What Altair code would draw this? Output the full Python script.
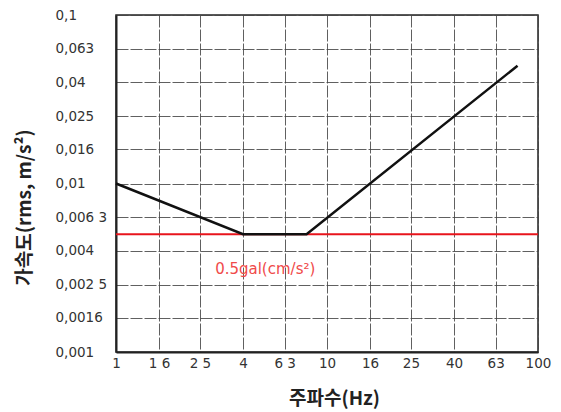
import altair as alt
import pandas as pd

# Data
freq = [1, 4, 8, 80]
accel = [0.01, 0.005, 0.005, 0.05]
limit_value = [0.005]
limit_label = ["0.5gal(cm/s²)"]
label_x = [2.95]
label_y = [0.0031]

x_ticks = [1, 1.6, 2.5, 4, 6.3, 10, 16, 25, 40, 63, 100]
x_tick_labels = ["1", "1 6", "2 5", "4", "6 3", "10", "16", "25", "40", "63", "100"]
y_ticks = [0.001, 0.0016, 0.0025, 0.004, 0.0063, 0.01, 0.016, 0.025, 0.04, 0.063, 0.1]
y_tick_labels = ["0,001", "0,0016", "0,002 5", "0,004", "0,006 3", "0,01", "0,016",
                 "0,025", "0,04", "0,063", "0,1"]


def label_expr(values, labels):
    expr = "''"
    for v, l in reversed(list(zip(values, labels))):
        expr = f"datum.value == {v} ? '{l}' : ({expr})"
    return expr


line_df = pd.DataFrame({"f": freq, "a": accel})
limit_df = pd.DataFrame({"a": limit_value})
text_df = pd.DataFrame({"f": label_x, "a": label_y, "t": limit_label})

xscale = alt.Scale(type="log", domain=[1, 100], nice=False)
yscale = alt.Scale(type="log", domain=[0.001, 0.1], nice=False)

lab_font = "DejaVu Sans"
title_font = "Noto Sans CJK KR"

xaxis = alt.Axis(
    values=x_ticks, labelExpr=label_expr(x_ticks, x_tick_labels),
    title="주파수(Hz)", titleFont=title_font, titleFontSize=19, titleFontWeight="bold",
    titleColor="#222", titleX=218, titleY=46, titleAnchor="middle", titleAlign="center",
    titleBaseline="middle",
    labelFont=lab_font, labelFontSize=13.5, labelColor="#333", labelPadding=4,
    labelBaseline="top", labelFlush=False, labelOverlap=False,
    ticks=False, tickSize=0,
    domain=True, domainColor="#222", domainWidth=2,
    grid=True, gridColor="#444", gridWidth=1, gridDash=[12, 2], gridOpacity=0.85,
)
yaxis = alt.Axis(
    values=y_ticks, labelExpr=label_expr(y_ticks, y_tick_labels),
    title="가속도(rms, m/s²)", titleFont=title_font, titleFontSize=19, titleFontWeight="bold",
    titleColor="#222", titleX=-92, titleY=192, titleAngle=-90, titleAlign="center",
    titleBaseline="middle",
    labelFont=lab_font, labelFontSize=13.5, labelColor="#333", labelPadding=61,
    labelAlign="left", labelBaseline="middle", labelFlush=False, labelOverlap=False,
    ticks=False, tickSize=0,
    domain=True, domainColor="#222", domainWidth=2,
    grid=True, gridColor="#444", gridWidth=1, gridDash=[12, 2], gridOpacity=0.85,
)

line = alt.Chart(line_df).mark_line(color="#111", strokeWidth=2.5).encode(
    x=alt.X("f:Q", scale=xscale, axis=xaxis),
    y=alt.Y("a:Q", scale=yscale, axis=yaxis),
)

rule = alt.Chart(limit_df).mark_rule(color="#e8141c", strokeWidth=2).encode(
    y=alt.Y("a:Q", scale=yscale),
)

text = alt.Chart(text_df).mark_text(
    color="#f04a4a", fontSize=15, font=lab_font, align="left", baseline="middle"
).encode(
    x=alt.X("f:Q", scale=xscale),
    y=alt.Y("a:Q", scale=yscale),
    text="t:N",
)

chart = alt.layer(rule, line, text).properties(
    width=422, height=337,
    autosize=alt.AutoSizeParams(type="none"),
    padding={"left": 108, "top": 7, "right": 15, "bottom": 60},
    background="white",
).configure_view(stroke="#222", strokeWidth=1.5)

chart.save("out.html", embed_options={"renderer": "svg", "actions": False})
